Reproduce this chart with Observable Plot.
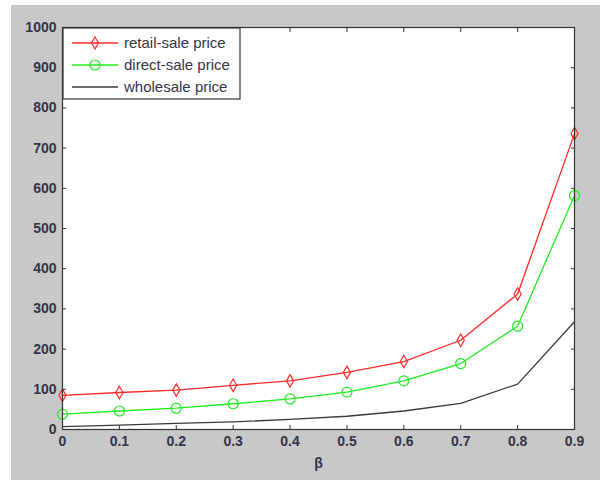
<!DOCTYPE html>
<html>
<head>
<meta charset="utf-8">
<script src="https://cdn.jsdelivr.net/npm/d3@7"></script>
<script src="https://cdn.jsdelivr.net/npm/@observablehq/plot@0.6"></script>
<style>
  html, body { margin: 0; padding: 0; background: #ffffff; }
  #wrap { position: absolute; left: 11px; top: 5px; width: 589px; height: 475px; background: #c8c8c8; }
</style>
</head>
<body>
<div id="wrap"></div>
<script>
const beta = [0, 0.1, 0.2, 0.3, 0.4, 0.5, 0.6, 0.7, 0.8, 0.9];
const retail = [85, 92, 98, 110, 121, 142, 169, 222, 337, 736];
const direct = [38, 46, 53, 64, 76, 93, 121, 164, 257, 582];
const wholesale = [7, 11, 15, 19, 25, 33, 46, 65, 113, 268];
const xTicks = [0, 0.1, 0.2, 0.3, 0.4, 0.5, 0.6, 0.7, 0.8, 0.9];
const yTicks = [0, 100, 200, 300, 400, 500, 600, 700, 800, 900, 1000];
const seriesNames = ["retail-sale price", "direct-sale price", "wholesale price"];

const RED = "#ff2a2a", GREEN = "#1fee1f", BLACK = "#3a3a3a";

const rows = (vals) => beta.map((b, i) => ({ beta: b, v: vals[i] }));
const R = rows(retail), G = rows(direct), W = rows(wholesale);

const tallDiamond = {
  draw(context, size) {
    const r = Math.sqrt(size / Math.PI);
    const w = r * 0.72, h = r * 1.25;
    context.moveTo(0, -h);
    context.lineTo(w, 0);
    context.lineTo(0, h);
    context.lineTo(-w, 0);
    context.closePath();
  }
};

const labelColor = "#34344a";
const fmt = (d) => String(d);

const chart = Plot.plot({
  width: 589,
  height: 475,
  marginLeft: 51,
  marginRight: 26,
  marginTop: 22,
  marginBottom: 51,
  style: { background: "transparent", fontFamily: "Liberation Sans, Arial, sans-serif", fontSize: "14px", color: labelColor },
  x: { domain: [0, 0.9] },
  y: { domain: [0, 1000] },
  marks: [
    Plot.frame({ fill: "white", stroke: "none" }),
    Plot.line(W, { x: "beta", y: "v", stroke: BLACK, strokeWidth: 1.3 }),
    Plot.line(G, { x: "beta", y: "v", stroke: GREEN, strokeWidth: 1.3 }),
    Plot.dot(G, { x: "beta", y: "v", stroke: GREEN, r: 5, strokeWidth: 1.2 }),
    Plot.line(R, { x: "beta", y: "v", stroke: RED, strokeWidth: 1.3 }),
    Plot.dot(R, { x: "beta", y: "v", stroke: RED, r: 5, symbol: tallDiamond, strokeWidth: 1.2 }),
    // inward ticks
    Plot.axisX(xTicks, { anchor: "bottom", tickSize: -4, tickFormat: () => "", label: null, stroke: "#333" }),
    Plot.axisX(xTicks, { anchor: "top", tickSize: -4, tickFormat: () => "", label: null, stroke: "#333" }),
    Plot.axisY(yTicks, { anchor: "left", tickSize: -4, tickFormat: () => "", label: null, stroke: "#333" }),
    Plot.axisY(yTicks, { anchor: "right", tickSize: -4, tickFormat: () => "", label: null, stroke: "#333" }),
    // labels
    Plot.axisX(xTicks, { anchor: "bottom", tickSize: 0, tickPadding: 7, tickFormat: fmt, label: "β", labelAnchor: "center", labelArrow: "none", labelOffset: 38, fill: labelColor, fontSize: 14, fontWeight: "bold" }),
    Plot.axisY(yTicks, { anchor: "left", tickSize: 0, tickPadding: 6, tickFormat: fmt, label: null, fill: labelColor, fontSize: 14, fontWeight: "bold" }),
    Plot.frame({ stroke: "#333", strokeWidth: 1.2 })
  ]
});

document.getElementById("wrap").appendChild(chart);

// Legend drawn inside the plot's SVG
const svg = d3.select(chart);
const lg = svg.append("g").attr("transform", "translate(52,23)").attr("text-anchor", "start");
lg.append("rect").attr("x", 0).attr("y", 0).attr("width", 177).attr("height", 71)
  .attr("fill", "white").attr("stroke", "#333").attr("stroke-width", 1.2);
const entries = [
  { name: seriesNames[0], color: RED, sym: "diamond" },
  { name: seriesNames[1], color: GREEN, sym: "circle" },
  { name: seriesNames[2], color: BLACK, sym: null }
];
entries.forEach((e, i) => {
  const y = 15 + i * 22;
  lg.append("line").attr("x1", 9).attr("x2", 55).attr("y1", y).attr("y2", y)
    .attr("stroke", e.color).attr("stroke-width", 1.3);
  if (e.sym === "diamond") {
    lg.append("path").attr("d", "M32," + (y - 6) + "L35.5," + y + "L32," + (y + 6) + "L28.5," + y + "Z")
      .attr("fill", "none").attr("stroke", e.color).attr("stroke-width", 1.2);
  } else if (e.sym === "circle") {
    lg.append("circle").attr("cx", 32).attr("cy", y).attr("r", 5)
      .attr("fill", "none").attr("stroke", e.color).attr("stroke-width", 1.2);
  }
  lg.append("text").attr("x", 61).attr("y", y).attr("dy", "0.35em")
    .attr("text-anchor", "start")
    .attr("font-family", "Liberation Sans, Arial, sans-serif").attr("font-size", 15)
    .attr("fill", labelColor).text(e.name);
});
</script>
</body>
</html>
